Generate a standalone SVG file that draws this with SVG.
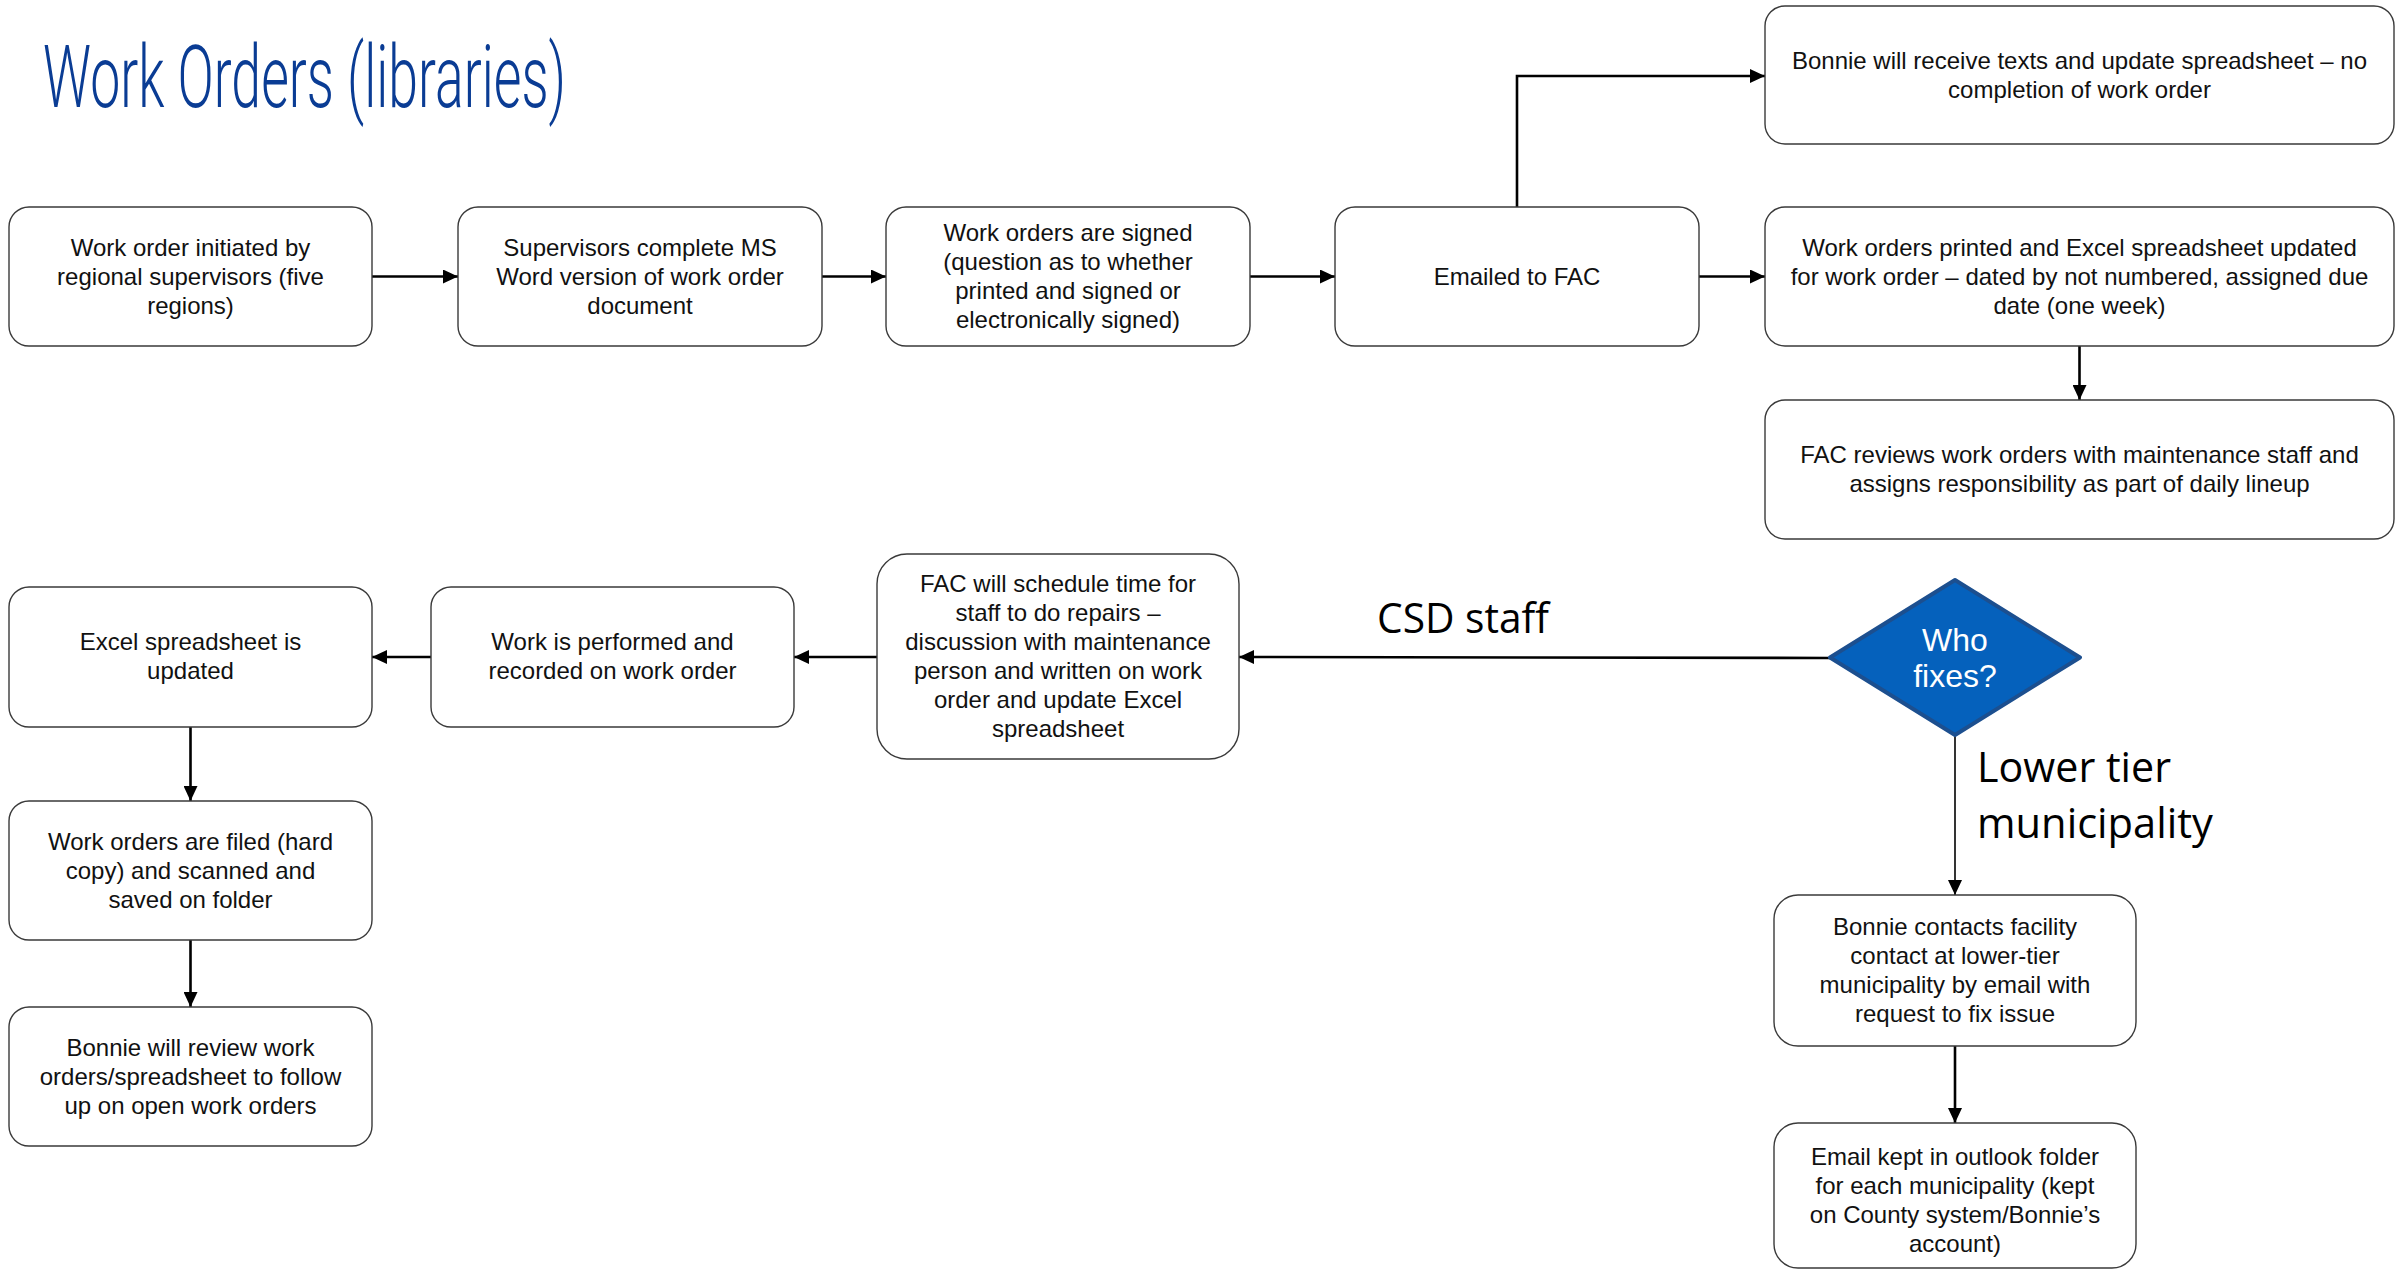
<svg xmlns="http://www.w3.org/2000/svg" width="2408" height="1270" viewBox="0 0 2408 1270">
  <style>
    .box { fill: #ffffff; stroke: #3a3a3a; stroke-width: 1.4; }
    .lbl { font-family: "Liberation Sans", Arial, sans-serif; font-size: 24px; fill: #111111; text-anchor: middle; }
    .edge { fill: none; stroke: #000000; stroke-width: 2.6; }
    .thin { fill: none; stroke: #000000; stroke-width: 1.6; }
    .branch { font-family: "Open Sans", "Noto Sans", sans-serif; font-size: 42px; fill: #000000; }
    .title { font-family: Roboto, "Liberation Sans", sans-serif; font-weight: 300; font-size: 88px; fill: #0A3C94; }
  </style>
  <defs>
    <marker id="arrow" markerUnits="userSpaceOnUse" markerWidth="16" markerHeight="14" refX="15" refY="7" orient="auto">
      <path d="M0,0 L15,7 L0,14 Z" fill="#000000"/>
    </marker>
  </defs>

  <text class="title" x="43" y="107" textLength="523" lengthAdjust="spacingAndGlyphs">Work Orders (libraries)</text>

  <!-- connectors -->
  <g id="connectors">
    <line class="edge" x1="372" y1="276.5" x2="458" y2="276.5" marker-end="url(#arrow)"/>
    <line class="edge" x1="822" y1="276.5" x2="886" y2="276.5" marker-end="url(#arrow)"/>
    <line class="edge" x1="1250" y1="276.5" x2="1335" y2="276.5" marker-end="url(#arrow)"/>
    <line class="edge" x1="1699" y1="276.5" x2="1765" y2="276.5" marker-end="url(#arrow)"/>
    <polyline class="edge" points="1517,207 1517,76 1765,76" marker-end="url(#arrow)"/>
    <line class="edge" x1="2079.5" y1="346" x2="2079.5" y2="400" marker-end="url(#arrow)"/>
    <line class="edge" x1="1830" y1="658" x2="1239" y2="657" marker-end="url(#arrow)"/>
    <line class="edge" x1="877" y1="657" x2="794" y2="657" marker-end="url(#arrow)"/>
    <line class="edge" x1="431" y1="657" x2="372" y2="657" marker-end="url(#arrow)"/>
    <line class="edge" x1="190.5" y1="727" x2="190.5" y2="801" marker-end="url(#arrow)"/>
    <line class="edge" x1="190.5" y1="940" x2="190.5" y2="1007" marker-end="url(#arrow)"/>
    <line class="thin" x1="1955" y1="735" x2="1955" y2="895" marker-end="url(#arrow)"/>
    <line class="edge" x1="1955" y1="1046" x2="1955" y2="1123" marker-end="url(#arrow)"/>
    <text class="branch" x="1377" y="633" textLength="172" lengthAdjust="spacingAndGlyphs">CSD staff</text>
    <text class="branch" x="1977" y="782" textLength="194" lengthAdjust="spacingAndGlyphs">Lower tier</text>
    <text class="branch" x="1977" y="838" textLength="236" lengthAdjust="spacingAndGlyphs">municipality</text>
  </g>

  <!-- top row -->
  <g id="initiated">
    <rect class="box" x="9" y="207" width="363" height="139" rx="20"/>
    <text class="lbl" x="190.5" y="256">Work order initiated by</text>
    <text class="lbl" x="190.5" y="285">regional supervisors (five</text>
    <text class="lbl" x="190.5" y="314">regions)</text>
  </g>
  <g id="word-version">
    <rect class="box" x="458" y="207" width="364" height="139" rx="20"/>
    <text class="lbl" x="640" y="256">Supervisors complete MS</text>
    <text class="lbl" x="640" y="285">Word version of work order</text>
    <text class="lbl" x="640" y="314">document</text>
  </g>
  <g id="signed">
    <rect class="box" x="886" y="207" width="364" height="139" rx="20"/>
    <text class="lbl" x="1068" y="241">Work orders are signed</text>
    <text class="lbl" x="1068" y="270">(question as to whether</text>
    <text class="lbl" x="1068" y="299">printed and signed or</text>
    <text class="lbl" x="1068" y="328">electronically signed)</text>
  </g>
  <g id="emailed">
    <rect class="box" x="1335" y="207" width="364" height="139" rx="20"/>
    <text class="lbl" x="1517" y="285">Emailed to FAC</text>
  </g>
  <g id="texts">
    <rect class="box" x="1765" y="6" width="629" height="138" rx="20"/>
    <text class="lbl" x="2079.5" y="69">Bonnie will receive texts and update spreadsheet – no</text>
    <text class="lbl" x="2079.5" y="98">completion of work order</text>
  </g>
  <g id="printed">
    <rect class="box" x="1765" y="207" width="629" height="139" rx="20"/>
    <text class="lbl" x="2079.5" y="256">Work orders printed and Excel spreadsheet updated</text>
    <text class="lbl" x="2079.5" y="285">for work order – dated by not numbered, assigned due</text>
    <text class="lbl" x="2079.5" y="314">date (one week)</text>
  </g>
  <g id="reviews">
    <rect class="box" x="1765" y="400" width="629" height="139" rx="20"/>
    <text class="lbl" x="2079.5" y="463">FAC reviews work orders with maintenance staff and</text>
    <text class="lbl" x="2079.5" y="492">assigns responsibility as part of daily lineup</text>
  </g>

  <!-- decision -->
  <g id="who-fixes">
    <polygon points="1955,580 2080,657.5 1955,735 1830,657.5" fill="#0561BC" stroke="#1C4F8F" stroke-width="4" stroke-linejoin="round"/>
    <text x="1955" y="651" font-family="Liberation Sans, Arial, sans-serif" font-size="32" fill="#ffffff" text-anchor="middle">Who</text>
    <text x="1955" y="687" font-family="Liberation Sans, Arial, sans-serif" font-size="32" fill="#ffffff" text-anchor="middle">fixes?</text>
  </g>

  <!-- CSD staff branch -->
  <g id="schedule">
    <rect class="box" x="877" y="554" width="362" height="205" rx="30"/>
    <text class="lbl" x="1058" y="592">FAC will schedule time for</text>
    <text class="lbl" x="1058" y="621">staff to do repairs –</text>
    <text class="lbl" x="1058" y="650">discussion with maintenance</text>
    <text class="lbl" x="1058" y="679">person and written on work</text>
    <text class="lbl" x="1058" y="708">order and update Excel</text>
    <text class="lbl" x="1058" y="737">spreadsheet</text>
  </g>
  <g id="performed">
    <rect class="box" x="431" y="587" width="363" height="140" rx="20"/>
    <text class="lbl" x="612.5" y="650">Work is performed and</text>
    <text class="lbl" x="612.5" y="679">recorded on work order</text>
  </g>
  <g id="excel-updated">
    <rect class="box" x="9" y="587" width="363" height="140" rx="20"/>
    <text class="lbl" x="190.5" y="650">Excel spreadsheet is</text>
    <text class="lbl" x="190.5" y="679">updated</text>
  </g>
  <g id="filed">
    <rect class="box" x="9" y="801" width="363" height="139" rx="20"/>
    <text class="lbl" x="190.5" y="850">Work orders are filed (hard</text>
    <text class="lbl" x="190.5" y="879">copy) and scanned and</text>
    <text class="lbl" x="190.5" y="908">saved on folder</text>
  </g>
  <g id="follow-up">
    <rect class="box" x="9" y="1007" width="363" height="139" rx="20"/>
    <text class="lbl" x="190.5" y="1056">Bonnie will review work</text>
    <text class="lbl" x="190.5" y="1085">orders/spreadsheet to follow</text>
    <text class="lbl" x="190.5" y="1114">up on open work orders</text>
  </g>

  <!-- lower tier branch -->
  <g id="contacts">
    <rect class="box" x="1774" y="895" width="362" height="151" rx="24"/>
    <text class="lbl" x="1955" y="935">Bonnie contacts facility</text>
    <text class="lbl" x="1955" y="964">contact at lower-tier</text>
    <text class="lbl" x="1955" y="993">municipality by email with</text>
    <text class="lbl" x="1955" y="1022">request to fix issue</text>
  </g>
  <g id="outlook">
    <rect class="box" x="1774" y="1123" width="362" height="145" rx="24"/>
    <text class="lbl" x="1955" y="1165">Email kept in outlook folder</text>
    <text class="lbl" x="1955" y="1194">for each municipality (kept</text>
    <text class="lbl" x="1955" y="1223">on County system/Bonnie’s</text>
    <text class="lbl" x="1955" y="1252">account)</text>
  </g>
</svg>
